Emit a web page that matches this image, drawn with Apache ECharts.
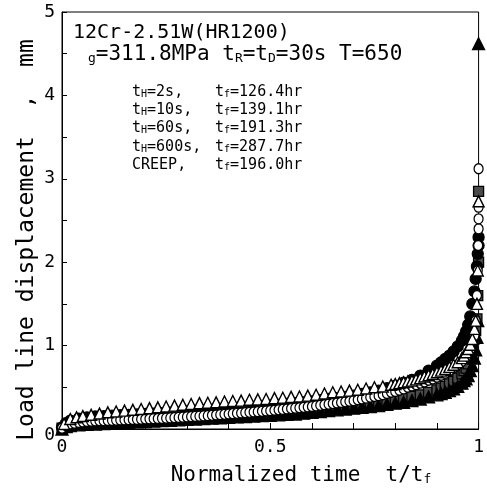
<!DOCTYPE html>
<html><head><meta charset="utf-8">
<script src="https://cdn.jsdelivr.net/npm/echarts@6/dist/echarts.min.js"></script>
<style>html,body{margin:0;padding:0;background:#fff}#c{width:487px;height:490px}</style>
</head><body><div id="c"></div>
<script>
// ---- data ----
const xTickLabels = ['0', '0.5', '1'];
const yTickLabels = ['0', '1', '2', '3', '4', '5'];
const specimen = '12Cr-2.51W(HR1200)';
const holdTimes = ['2s', '10s', '60s', '600s'];
const ruptureTimes = ['126.4hr', '139.1hr', '191.3hr', '287.7hr', '196.0hr'];

// open triangles
const triOpenX = [0.005,0.02,0.035,0.05,0.07,0.09,0.11,0.13,0.15,0.17,0.19,0.21,0.23,0.25,0.27,0.29,0.31,0.33,0.35,0.37,0.39,0.41,0.43,0.45,0.47,0.49,0.51,0.53,0.55,0.57,0.59,0.61,0.63,0.65,0.67,0.69,0.71,0.73,0.75,0.77,0.79,0.80,0.81,0.82,0.83,0.84,0.85,0.86,0.87,0.88,0.89,0.90,0.91,0.92,0.93,0.94,0.95,0.96,0.965,0.97,0.975,0.98,0.985,0.99,0.993,0.996,0.998,1.0];
const triOpenY = [0.06,0.12,0.14,0.155,0.17,0.185,0.20,0.21,0.22,0.23,0.24,0.25,0.26,0.27,0.28,0.29,0.30,0.31,0.315,0.32,0.33,0.335,0.34,0.35,0.355,0.36,0.37,0.375,0.385,0.39,0.40,0.41,0.425,0.44,0.45,0.46,0.47,0.485,0.50,0.51,0.53,0.54,0.55,0.56,0.57,0.58,0.595,0.61,0.63,0.645,0.66,0.68,0.70,0.72,0.745,0.77,0.80,0.85,0.88,0.92,0.96,1.01,1.08,1.2,1.3,1.5,1.9,2.73];

// open circles
const circOpenX = [0,0.01,0.02,0.03,0.04,0.05,0.06,0.07,0.08,0.09,0.10,0.11,0.12,0.13,0.14,0.15,0.16,0.17,0.18,0.19,0.20,0.21,0.22,0.23,0.24,0.25,0.26,0.27,0.28,0.29,0.30,0.31,0.32,0.33,0.34,0.35,0.36,0.37,0.38,0.39,0.40,0.41,0.42,0.43,0.44,0.45,0.46,0.47,0.48,0.49,0.50,0.51,0.52,0.53,0.54,0.55,0.56,0.57,0.58,0.59,0.60,0.61,0.62,0.63,0.64,0.65,0.66,0.67,0.68,0.69,0.70,0.71,0.72,0.73,0.74,0.75,0.76,0.77,0.78,0.79,0.80,0.81,0.82,0.83,0.84,0.85,0.86,0.87,0.88,0.89,0.90,0.91,0.92,0.93,0.94,0.95,0.96,0.97,0.98,0.99,0.993,0.996,0.998,0.999,1,1,1,1];
const circOpenY = [0.01,0.04,0.06,0.07,0.08,0.085,0.09,0.093,0.096,0.099,
  0.10,0.102,0.104,0.106,0.108,0.11,0.112,0.114,0.116,0.118,
  0.12,0.122,0.124,0.126,0.128,0.13,0.133,0.136,0.139,0.142,
  0.145,0.148,0.151,0.154,0.157,0.16,0.164,0.168,0.172,0.176,
  0.18,0.184,0.188,0.192,0.196,0.20,0.204,0.208,0.212,0.216,
  0.22,0.225,0.23,0.235,0.24,0.245,0.25,0.255,0.26,0.265,
  0.27,0.277,0.284,0.291,0.298,0.305,0.312,0.319,0.326,0.333,
  0.34,0.35,0.36,0.37,0.38,0.39,0.40,0.41,0.425,0.44,
  0.45,0.465,0.48,0.50,0.515,0.53,0.55,0.565,0.585,0.60,
  0.62,0.645,0.67,0.70,0.735,0.77,0.81,0.86,0.95,1.12,
  1.3,1.6,1.9,2.2,2.40,2.52,2.66,3.12];

// filled circles
const circFillX = [0,0.01,0.02,0.04,0.06,0.08,0.10,0.12,0.14,0.16,0.18,0.20,0.22,0.24,0.26,0.28,0.30,0.32,0.34,0.36,0.38,0.40,0.42,0.44,0.46,0.48,0.50,0.52,0.54,0.56,0.58,0.60,0.62,0.64,0.66,0.68,0.70,0.72,0.74,0.76,0.78,0.80,0.82,0.84,0.86,0.88,0.90,0.91,0.92,0.93,0.94,0.95,0.96,0.965,0.97,0.975,0.98,0.985,0.99,0.993,0.996,0.998,1,1];
const circFillY = [0.02,0.07,0.10,0.125,0.14,0.15,0.155,0.16,0.165,0.17,0.175,0.18,0.185,0.19,0.195,0.20,0.21,0.215,0.22,0.225,0.23,0.24,0.245,0.25,0.26,0.27,0.28,0.29,0.30,0.31,0.32,0.33,0.345,0.36,0.37,0.385,0.40,0.42,0.44,0.46,0.49,0.52,0.555,0.59,0.64,0.70,0.76,0.80,0.84,0.88,0.93,0.99,1.06,1.11,1.17,1.25,1.35,1.5,1.65,1.8,1.95,2.1,2.2,2.3];

// filled triangles
const triFillX = [0,0.01,0.02,0.04,0.06,0.08,0.10,0.12,0.14,0.16,0.18,0.20,0.22,0.24,0.26,0.28,0.30,0.32,0.34,0.36,0.38,0.40,0.42,0.44,0.46,0.48,0.50,0.52,0.54,0.56,0.58,0.60,0.62,0.64,0.66,0.68,0.70,0.72,0.74,0.76,0.78,0.80,0.82,0.84,0.86,0.88,0.90,0.91,0.92,0.93,0.94,0.95,0.96,0.965,0.97,0.975,0.98,0.985,0.99,0.993,0.996,0.998,1];
const triFillY = [0.00,0.03,0.04,0.05,0.055,0.06,0.065,0.07,0.075,0.08,0.085,0.09,0.095,0.10,0.105,0.11,0.115,0.12,0.125,0.13,0.135,0.14,0.145,0.15,0.155,0.16,0.165,0.17,0.175,0.18,0.19,0.20,0.21,0.22,0.23,0.24,0.25,0.26,0.27,0.28,0.295,0.31,0.32,0.34,0.36,0.385,0.41,0.425,0.44,0.46,0.48,0.51,0.55,0.58,0.60,0.64,0.70,0.76,0.85,0.95,1.1,1.3,4.62];

// grey squares
const sqX = [0,0.01,0.02,0.04,0.06,0.08,0.10,0.12,0.14,0.16,0.18,0.20,0.22,0.24,0.26,0.28,0.30,0.32,0.34,0.36,0.38,0.40,0.42,0.44,0.46,0.48,0.50,0.52,0.54,0.56,0.58,0.60,0.62,0.64,0.66,0.68,0.70,0.72,0.74,0.76,0.78,0.80,0.82,0.84,0.86,0.88,0.90,0.91,0.92,0.93,0.94,0.95,0.96,0.965,0.97,0.975,0.98,0.985,0.99,0.993,0.996,0.998,1,1];
const sqY = [0.01,0.04,0.05,0.065,0.075,0.08,0.085,0.09,0.095,0.10,0.105,0.11,0.115,0.12,0.125,0.13,0.135,0.14,0.145,0.15,0.155,0.16,0.165,0.17,0.175,0.18,0.185,0.19,0.195,0.20,0.21,0.22,0.23,0.24,0.25,0.26,0.275,0.29,0.30,0.315,0.33,0.35,0.37,0.39,0.41,0.44,0.47,0.49,0.51,0.54,0.57,0.61,0.66,0.70,0.73,0.78,0.85,0.95,1.08,1.18,1.32,1.6,2.0,2.85];

// ---- chart ----
const FF = '"DejaVu Sans Mono", monospace';
const pairs = (xs, ys) => xs.map((x, i) => [x, ys[i]]);
function sc(name, xs, ys, symbol, size, fill, bw) {
  return {
    name, type: 'scatter', data: pairs(xs, ys), symbol, symbolSize: size,
    itemStyle: { color: fill, borderColor: '#000', borderWidth: bw, opacity: 1 },
    emphasis: { disabled: true }, silent: true
  };
}
const sub = { fontSize: 10, fontFamily: FF, verticalAlign: 'bottom', lineHeight: 10, fill: '#000' };
const subL = { fontSize: 13, fontFamily: FF, verticalAlign: 'bottom', lineHeight: 12, fill: '#000' };
function txt(x, y, text, size, richSub, align) {
  return {
    type: 'text', x, y, silent: true,
    style: { text, font: size + 'px ' + FF, fill: '#000', verticalAlign: 'middle', align: align || 'left', rich: { s: richSub } }
  };
}
const rowY = [92, 110, 128, 147, 165];
const graphics = [
  txt(73, 33, specimen, 20, subL),
  txt(88, 55, '{s|g}=311.8MPa t{s|R}=t{s|D}=30s T=650', 21, subL)
];
rowY.forEach((y, i) => {
  const left = i < holdTimes.length ? 't{s|H}=' + holdTimes[i] + ',' : 'CREEP,';
  graphics.push(txt(132, y, left, 15, sub));
  graphics.push(txt(215, y, 't{s|f}=' + ruptureTimes[i], 15, sub));
});
graphics.push(txt(301, 476, 'Normalized time  t/t{s|f}', 21, subL, 'center'));
graphics.push({
  type: 'text', x: 27, y: 240, rotation: Math.PI / 2, silent: true,
  style: { text: 'Load line displacement  ,  mm', font: '23px ' + FF, fill: '#000', align: 'center', verticalAlign: 'middle' }
});

const near = (a, b) => Math.abs(a - b) < 1e-6;
const option = {
  animation: false,
  backgroundColor: '#fff',
  grid: { left: 62, right: 4, top: 12, bottom: 61, show: true, borderColor: '#000', borderWidth: 1 },
  xAxis: {
    type: 'value', min: 0, max: 1, interval: 0.1,
    axisLine: { lineStyle: { color: '#000', width: 1 } },
    axisTick: { inside: true, length: 6, lineStyle: { color: '#000' } },
    splitLine: { show: false },
    axisLabel: {
      color: '#000', fontFamily: FF, fontSize: 18, margin: 9,
      formatter: v => { const k = xTickLabels.find(t => near(parseFloat(t), v)); return k === undefined ? '' : k; }
    }
  },
  yAxis: {
    type: 'value', min: 0, max: 5, interval: 0.5,
    axisLine: { lineStyle: { color: '#000', width: 1 } },
    axisTick: { inside: true, length: 5, lineStyle: { color: '#000' } },
    splitLine: { show: false },
    axisLabel: {
      color: '#000', fontFamily: FF, fontSize: 18, margin: 7,
      rich: { z: { fontFamily: FF, fontSize: 18, color: '#000', padding: [12, 0, 0, 0] } },
      formatter: v => {
        const k = yTickLabels.find(t => near(parseFloat(t), v));
        if (k === undefined) return '';
        return v === 0 ? '{z|' + k + '}' : k;
      }
    }
  },
  series: [
    sc('CREEP', sqX, sqY, 'rect', 10, '#4a4a4a', 1.3),
    sc('tH=600s', triFillX, triFillY, 'triangle', 12, '#000', 1.3),
    sc('tH=10s', circFillX, circFillY, 'circle', 11, '#000', 1.3),
    sc('tH=2s', circOpenX, circOpenY, 'circle', [9, 10], '#fff', 1.3),
    sc('tH=60s', triOpenX, triOpenY, 'triangle', 11, '#fff', 1.4)
  ],
  graphic: graphics
};
const chart = echarts.init(document.getElementById('c'));
chart.setOption(option);
</script>
</body></html>
